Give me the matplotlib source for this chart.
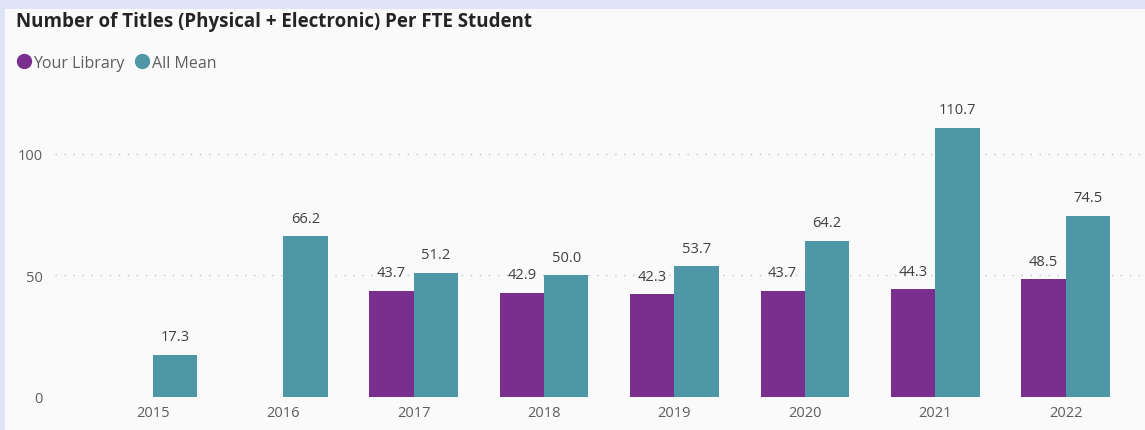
import numpy as np
import matplotlib
matplotlib.use("Agg")
import matplotlib.pyplot as plt
from matplotlib.patches import Rectangle
from matplotlib.lines import Line2D

years = ["2015", "2016", "2017", "2018", "2019", "2020", "2021", "2022"]
your_library = [np.nan, np.nan, 43.7, 42.9, 42.3, 43.7, 44.3, 48.5]
all_mean = [17.3, 66.2, 51.2, 50.0, 53.7, 64.2, 110.7, 74.5]
series_names = ["Your Library", "All Mean"]
yticks = [0, 50, 100]

PURPLE = "#7a2f8f"
TEAL = "#4e97a6"
W, H = 1145, 431

plt.rcParams['font.family'] = ['Open Sans', 'DejaVu Sans']

fig = plt.figure(figsize=(W / 100, H / 100), dpi=100)
fig.patch.set_facecolor("#dfe4f6")
fig.add_artist(Rectangle((5 / W, 0), 1 - 5 / W, (H - 10) / H,
                         transform=fig.transFigure, facecolor="#fafafa",
                         edgecolor="none", zorder=0))

ax = fig.add_axes([55 / W, (H - 398) / H, (1140 - 55) / W, (398 - 100) / H])
ax.set_facecolor("none")

x = np.arange(len(years))
bw = 0.34
ax.bar(x - bw / 2, your_library, width=bw, color=PURPLE, zorder=3)
ax.bar(x + bw / 2, all_mean, width=bw, color=TEAL, zorder=3)

for xi, v in zip(x, your_library):
    if not np.isnan(v):
        ax.annotate(f"{v:.1f}", (xi - bw / 2, v), xytext=(0, 13),
                    textcoords="offset points", ha="center", va="center",
                    fontsize=10.5, color="#404040")
for xi, v in zip(x, all_mean):
    ax.annotate(f"{v:.1f}", (xi + bw / 2, v), xytext=(0, 13),
                textcoords="offset points", ha="center", va="center",
                fontsize=10.5, color="#404040")

ax.set_xlim(-0.75, 7.57)
ax.set_ylim(0, 122.6)
ax.set_xticks(x)
ax.set_xticklabels(years)
ax.set_yticks(yticks)
ax.tick_params(axis="both", length=0, labelsize=10.5, labelcolor="#605e5c")
ax.tick_params(axis="x", pad=6)
ax.tick_params(axis="y", pad=9)
for s in ax.spines.values():
    s.set_visible(False)
ax.yaxis.grid(True, linestyle=(0, (1, 5.5)), color="#c4c4c4", linewidth=1, zorder=0)
ax.set_axisbelow(True)

fig.text(16 / W, 1 - 22 / H, "Number of Titles (Physical + Electronic) Per FTE Student",
         fontsize=13.5, fontweight="bold", color="#252423", ha="left", va="center")

handles = [Line2D([], [], marker="o", linestyle="", markersize=10, color=PURPLE),
           Line2D([], [], marker="o", linestyle="", markersize=10, color=TEAL)]
leg = fig.legend(handles, series_names, loc="center left",
                 bbox_to_anchor=(14 / W, 1 - 64 / H), ncol=2, frameon=False,
                 fontsize=11.5, handletextpad=0.0, columnspacing=0.5,
                 handlelength=1.2, borderpad=0, borderaxespad=0)
for t in leg.get_texts():
    t.set_color("#605e5c")

fig.savefig("out.png", dpi=100, facecolor=fig.get_facecolor())
